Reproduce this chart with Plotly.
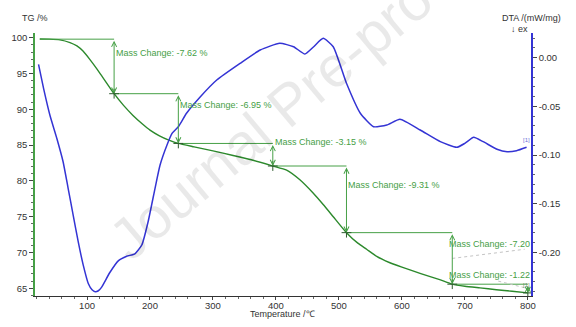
import numpy as np
import plotly.graph_objects as go

# ---- TG curve (mass, %) ----
temp_tg = [25, 40, 57, 73, 84, 94, 105, 120, 143, 158, 173, 188, 200, 215, 230, 245,
           270, 300, 332, 365, 395, 417, 438, 459, 475, 491, 512, 530, 544, 560, 580,
           600, 630, 660, 680, 700, 724, 750, 775, 800]
tg = [99.82, 99.80, 99.70, 99.32, 98.85, 98.10, 96.90, 95.10, 92.18, 90.55, 89.15, 87.95,
      87.10, 86.30, 85.70, 85.23, 84.75, 84.20, 83.55, 82.85, 82.08, 81.50, 80.15, 78.30,
      76.70, 75.00, 72.77, 71.30, 70.45, 69.45, 68.60, 67.95, 67.05, 66.20, 65.57, 65.28,
      65.05, 64.80, 64.58, 64.35]

# ---- DTA curve (mW/mg) ----
temp_dta = [23, 31, 41, 52, 62, 70, 78, 86, 94, 102, 108, 113, 118, 123, 136, 150, 163,
            176, 187, 197, 208, 216, 227, 235, 245, 258, 280, 306, 343, 375, 406, 428,
            446, 460, 475, 491, 512, 534, 555, 576, 597, 629, 661, 687, 700, 714, 729,
            751, 767, 782, 798]
dta = [-0.0068, -0.0315, -0.0589, -0.0828, -0.1069, -0.1342, -0.1617, -0.1891, -0.2131,
       -0.2320, -0.2385, -0.2405, -0.2395, -0.2360, -0.2210, -0.2085, -0.2040, -0.2015,
       -0.1925, -0.1686, -0.1342, -0.1103, -0.0897, -0.0777, -0.0709, -0.0571, -0.0401,
       -0.0229, -0.0058, 0.0079, 0.0148, 0.0113, 0.0038, 0.0113, 0.0199, 0.0113, -0.0263,
       -0.0571, -0.0709, -0.0692, -0.0633, -0.0743, -0.0863, -0.0921, -0.0880, -0.0818,
       -0.0863, -0.0941, -0.0966, -0.0956, -0.0921]

# ---- mass-change evaluation steps ----
tg_start_temp = 25
tg_start = 99.80
step_temps = [143, 245, 395, 512, 680, 800]
mass_changes = [-7.62, -6.95, -3.15, -9.31, -7.20, -1.22]
label_suffix = [" %", " %", " %", " %", "", ""]

# tick labels
x_ticks = [100, 200, 300, 400, 500, 600, 700, 800]
tg_ticks = [65, 70, 75, 80, 85, 90, 95, 100]
dta_ticks = [0.00, -0.05, -0.10, -0.15, -0.20]
dta_ticktext = ["0.00", "-0.05", "-0.10", "-0.15", "-0.20"]

# label anchor points (temperature, TG) for the step annotations
label_x = [143, 245, 395, 512, 671, 671]
label_y = [97.82, 90.6, 85.5, 79.43, 71.15, 66.86]

FONT = "Liberation Sans, Arial, Helvetica, sans-serif"
BLUE = "#3434d4"
GREEN = "#2c892c"
GREEN_ANN = "#46a046"
MARK = "#2d5a2d"
TEXT = "#333333"

levels = list(np.round(tg_start + np.cumsum(mass_changes), 2))
prev_temps = [tg_start_temp] + step_temps[:-1]
prev_levels = [tg_start] + levels[:-1]

fig = go.Figure()

fig.add_trace(go.Scatter(
    x=temp_dta, y=dta, yaxis="y2", mode="lines", hoverinfo="skip",
    line=dict(color=BLUE, width=1.5, shape="spline", smoothing=0.5)))

fig.add_trace(go.Scatter(
    x=temp_tg, y=tg, mode="lines", hoverinfo="skip",
    line=dict(color=GREEN, width=1.4, shape="spline", smoothing=0.5)))

# horizontal reference levels of each step
hx, hy = [], []
for t0, t1, lv in zip(prev_temps, step_temps, prev_levels):
    hx += [t0, t1, None]
    hy += [lv, lv, None]
fig.add_trace(go.Scatter(x=hx, y=hy, mode="lines", hoverinfo="skip",
                         line=dict(color=GREEN_ANN, width=1)))

# dotted leader lines for the two labels moved left
fig.add_trace(go.Scatter(
    x=[step_temps[4], 795, None, 753, step_temps[5]],
    y=[(prev_levels[4] + levels[4]) / 2, 70.45, None, 66.0, (prev_levels[5] + levels[5]) / 2],
    mode="lines", hoverinfo="skip",
    line=dict(color="#c4c4c4", width=1, dash="dot")))

# step end points
fig.add_trace(go.Scatter(
    x=step_temps, y=levels, mode="markers", hoverinfo="skip",
    marker=dict(symbol="cross-thin", size=7, line=dict(width=1, color=MARK))))

annotations = []
for t, lv0, lv1, mc, lx, ly, suf in zip(step_temps, prev_levels, levels, mass_changes,
                                          label_x, label_y, label_suffix):
    annotations.append(dict(
        x=t, y=lv1, ax=t, ay=lv0, xref="x", yref="y", axref="x", ayref="y",
        text="", showarrow=True, arrowhead=5, startarrowhead=5, arrowside="end+start",
        arrowsize=1, arrowwidth=1, arrowcolor=GREEN_ANN, standoff=0, startstandoff=0))
    annotations.append(dict(
        x=lx, y=ly, xref="x", yref="y", xanchor="left", yanchor="middle",
        text=f"Mass Change: {mc:.2f}{suf}", showarrow=False,
        font=dict(family=FONT, size=9, color=GREEN_ANN)))

# curve index labels
annotations.append(dict(x=798, y=-0.0846, xref="x", yref="y2", text="[1]", showarrow=False,
                        xanchor="center", yanchor="middle",
                        font=dict(family=FONT, size=6, color="#7070d8")))
annotations.append(dict(x=798, y=65.46, xref="x", yref="y", text="[1]", showarrow=False,
                        xanchor="center", yanchor="middle",
                        font=dict(family=FONT, size=6, color="#6f8f6f")))

# axis titles
annotations += [
    dict(x=0.0, y=1.056, xref="paper", yref="paper", text="TG /%", showarrow=False,
         xanchor="center", yanchor="middle", font=dict(family=FONT, size=9, color=TEXT)),
    dict(x=1.0, y=1.056, xref="paper", yref="paper", text="DTA /(mW/mg)", showarrow=False,
         xanchor="center", yanchor="middle", font=dict(family=FONT, size=9, color=TEXT)),
    dict(x=0.976, y=1.014, xref="paper", yref="paper", text="\u2193 ex", showarrow=False,
         xanchor="center", yanchor="middle", font=dict(family=FONT, size=9, color=TEXT)),
    dict(x=0.499, y=-0.07, xref="paper", yref="paper", text="Temperature /\u2103",
         showarrow=False, xanchor="center", yanchor="middle",
         font=dict(family=FONT, size=9, color=TEXT)),
]

# watermark
annotations.append(dict(x=0.514, y=0.734, xref="paper", yref="paper",
                        text="Journal Pre-proof", showarrow=False, textangle=-40,
                        xanchor="center", yanchor="middle",
                        font=dict(family=FONT, size=58, color="rgba(0,0,0,0.085)")))

tickfont = dict(family=FONT, size=9.5, color=TEXT)

fig.update_layout(
    width=576, height=327,
    margin=dict(l=35, r=45, t=33, b=31, pad=0),
    paper_bgcolor="white", plot_bgcolor="white",
    showlegend=False,
    font=dict(family=FONT),
    xaxis=dict(range=[17.4, 805], tickvals=x_ticks, ticks="outside", ticklen=3,
               ticklabelstandoff=-2,
               tickcolor="#444", showline=True, linecolor="#333", linewidth=1,
               showgrid=False, zeroline=False, tickfont=tickfont,
               minor=dict(dtick=20, tick0=0, ticks="outside", ticklen=2, tickcolor="#666")),
    yaxis=dict(range=[63.92, 100.66], tickvals=tg_ticks, ticks="outside", ticklen=4,
               tickcolor="#444", showline=True, linecolor=GREEN_ANN, linewidth=1.5,
               showgrid=False, zeroline=False, tickfont=tickfont,
               minor=dict(dtick=1, tick0=0, ticks="outside", ticklen=2, tickcolor="#666")),
    yaxis2=dict(range=[-0.2449, 0.0254], overlaying="y", side="right", anchor="x",
                tickvals=dta_ticks, ticktext=dta_ticktext, ticks="outside", ticklen=4,
                tickcolor="#444", showline=True, linecolor=BLUE, linewidth=1.5,
                showgrid=False, zeroline=False, tickfont=tickfont,
                minor=dict(dtick=0.01, tick0=0, ticks="outside", ticklen=2, tickcolor="#666")),
    annotations=annotations,
)

fig.write_html("out.html")
